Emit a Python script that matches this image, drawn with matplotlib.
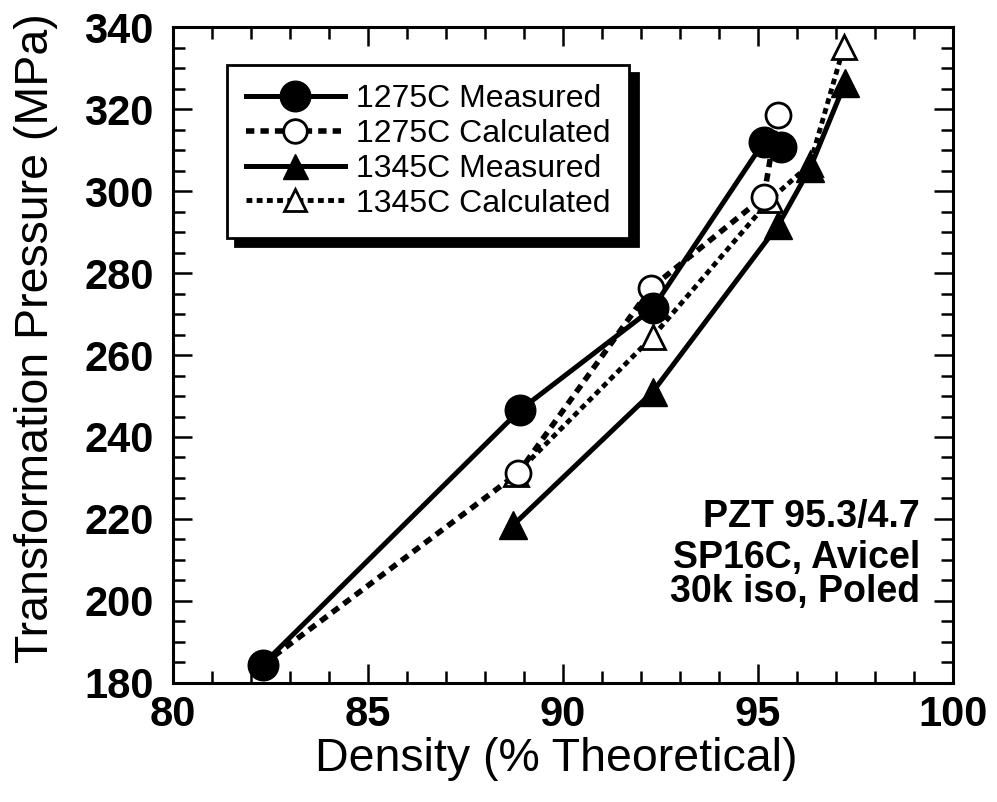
import matplotlib
matplotlib.use("Agg")
import matplotlib.pyplot as plt
from matplotlib.ticker import MultipleLocator

plt.rcParams['font.family'] = ['Liberation Sans', 'DejaVu Sans']

# Data (Density % theoretical, Transformation pressure MPa)
m1275_x = [82.3, 88.9, 92.3, 95.15, 95.6]
m1275_y = [184.5, 246.6, 271.4, 312.0, 310.8]
c1275_x = [82.3, 88.85, 92.25, 95.15, 95.5]
c1275_y = [184.5, 231.2, 276.3, 298.6, 318.5]
m1345_x = [88.72, 92.3, 95.52, 96.33, 97.23]
m1345_y = [218.5, 251.0, 291.7, 305.5, 326.3]
c1345_x = [88.8, 92.3, 95.3, 96.33, 97.2]
c1345_y = [231.0, 264.5, 297.8, 306.5, 335.2]

labels = ["1275C Measured", "1275C Calculated", "1345C Measured", "1345C Calculated"]
xticks = [80, 85, 90, 95, 100]
yticks = [180, 200, 220, 240, 260, 280, 300, 320, 340]
note_lines = ["PZT 95.3/4.7", "SP16C, Avicel", "30k iso, Poled"]

fig = plt.figure(figsize=(9.97, 8.02), dpi=100)
ax = fig.add_axes([0.1735, 0.1484, 0.7824, 0.8179])

ax.plot(c1345_x, c1345_y, color='black', lw=3.5, ls=(0, (1.2, 0.9)),
        marker='^', ms=17, mfc='white', mec='black', mew=2, label=labels[3], zorder=2)
ax.plot(c1275_x, c1275_y, color='black', lw=4.0, ls=(0, (1.5, 1.1)),
        marker='o', ms=18, mfc='white', mec='black', mew=2, label=labels[1], zorder=3)
ax.plot(m1345_x, m1345_y, color='black', lw=3.6, ls='-',
        marker='^', ms=20, mfc='black', mec='black', label=labels[2], zorder=4)
ax.plot(m1275_x, m1275_y, color='black', lw=3.6, ls='-',
        marker='o', ms=22, mfc='black', mec='black', label=labels[0], zorder=5)

ax.set_xlim(80, 100)
ax.set_ylim(180, 340)
ax.set_xticks(xticks)
ax.set_yticks(yticks)
ax.xaxis.set_minor_locator(MultipleLocator(1))
ax.yaxis.set_minor_locator(MultipleLocator(5))
ax.tick_params(which='both', direction='in', top=True, right=True, width=1.8)
ax.tick_params(which='major', length=14)
ax.tick_params(which='minor', length=8.5)
ax.tick_params(axis='x', which='major', pad=9)
ax.tick_params(axis='y', which='major', pad=14)
for lab in ax.get_xticklabels() + ax.get_yticklabels():
    lab.set_fontsize(30)
    lab.set_fontweight('bold')
for sp in ax.spines.values():
    sp.set_linewidth(2.2)

ax.set_xlabel("Density (% Theoretical)", fontsize=33.5)
ax.set_ylabel("Transformation Pressure (MPa)", fontsize=33.5)
ax.xaxis.set_label_coords(0.491, -0.083)
ax.yaxis.set_label_coords(-0.147, 0.526)

handles, labs = ax.get_legend_handles_labels()
order = [3, 1, 2, 0]
leg = ax.legend([handles[i] for i in order], [labs[i] for i in order],
                loc='upper left', bbox_to_anchor=(0.069, 0.942), borderaxespad=0,
                fontsize=23, handlelength=3.1, handletextpad=0.33, labelspacing=0.15,
                borderpad=0.6, fancybox=False, framealpha=1, edgecolor='black',
                shadow={'ox': 6, 'oy': -6, 'color': 'black', 'alpha': 1})
leg.get_frame().set_linewidth(2.0)
for h, s in zip(leg.legend_handles, [22, 17, 18, 16]):
    h.set_markersize(s)

yb = [0.2378, 0.1753, 0.1235]
for t, y in zip(note_lines, yb):
    ax.text(0.9577, y, t, transform=ax.transAxes, ha='right', va='baseline',
            fontsize=27, fontweight='bold')

fig.savefig("out.png", dpi=100)
